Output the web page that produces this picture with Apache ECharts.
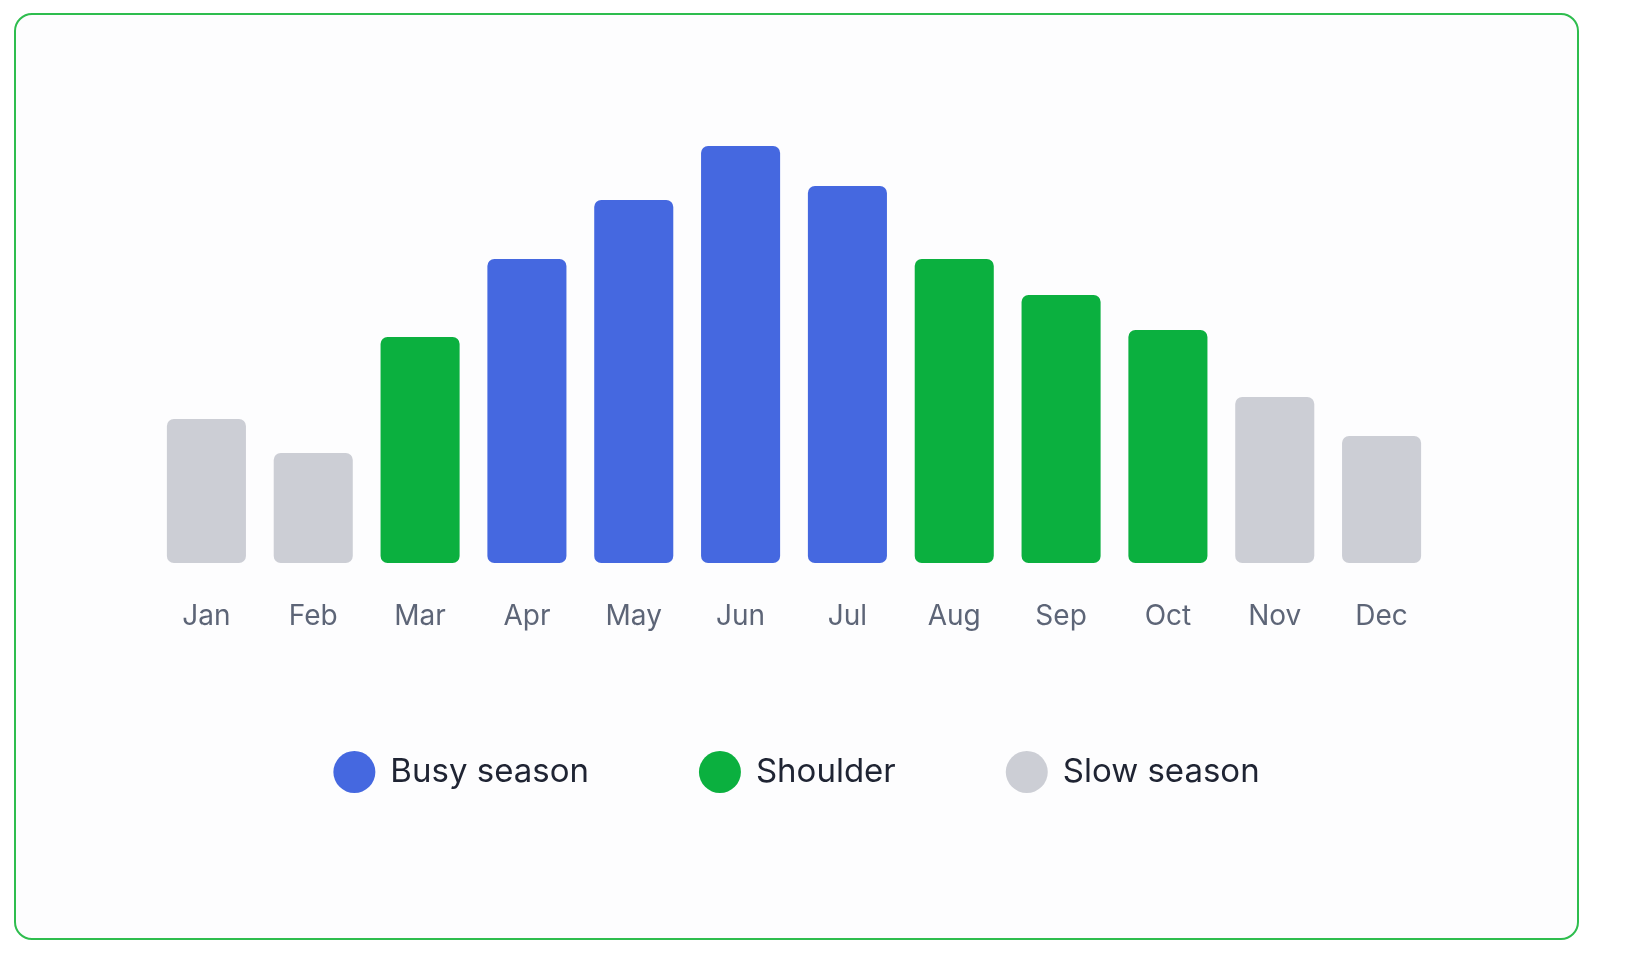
<!DOCTYPE html>
<html>
<head>
    <meta charset="utf-8">
    <title>Seasons</title>
    <script src="https://cdn.jsdelivr.net/npm/echarts@6/dist/echarts.min.js"></script>
    <style>
        html, body { margin: 0; padding: 0; background: #ffffff; }
        #frame {
            position: absolute; left: 14px; top: 13px; width: 1565px; height: 927px;
            border: 2px solid #2ebd4e; border-radius: 18px; background: #fdfdfe;
            box-sizing: border-box;
        }
        #main { width: 100%; height: 100%; }
    </style>
</head>
<body>
    <div id="frame"><div id="main"></div></div>
    <script type="text/javascript">
        var months = ['Jan', 'Feb', 'Mar', 'Apr', 'May', 'Jun', 'Jul', 'Aug', 'Sep', 'Oct', 'Nov', 'Dec'];
        // estimated bar heights (relative units)
        var busy     = [null, null, null, 304, 363, 417, 377, null, null, null, null, null];
        var shoulder = [null, null, 226, null, null, null, null, 304, 268, 233, null, null];
        var slow     = [144, 110, null, null, null, null, null, null, null, null, 166, 127];

        var myChart = echarts.init(document.getElementById('main'));

        function bar(name, data, color) {
            return {
                name: name,
                type: 'bar',
                stack: 'm',
                data: data,
                barWidth: '74%',
                itemStyle: { color: color, borderRadius: 7 }
            };
        }

        var option = {
            animation: false,
            textStyle: { fontFamily: 'Inter, "Noto Sans", sans-serif' },
            grid: { left: 137, right: 142, top: 131, bottom: 375 },
            legend: {
                bottom: 140,
                left: 'center',
                icon: 'circle',
                itemWidth: 42,
                itemHeight: 42,
                itemGap: 110,
                textStyle: { fontSize: 33, color: '#1f2433', padding: [0, 0, 0, 10] },
                data: ['Busy season', 'Shoulder', 'Slow season']
            },
            xAxis: {
                type: 'category',
                data: months,
                axisLine: { show: false },
                axisTick: { show: false },
                axisLabel: { fontSize: 28, color: '#5d6577', margin: 40 }
            },
            yAxis: {
                type: 'value',
                min: 0,
                max: 417,
                show: false
            },
            series: [
                bar('Busy season', busy, '#4568e0'),
                bar('Shoulder', shoulder, '#0bb03f'),
                bar('Slow season', slow, '#ccced5')
            ]
        };

        myChart.setOption(option);
    </script>
</body>
</html>
